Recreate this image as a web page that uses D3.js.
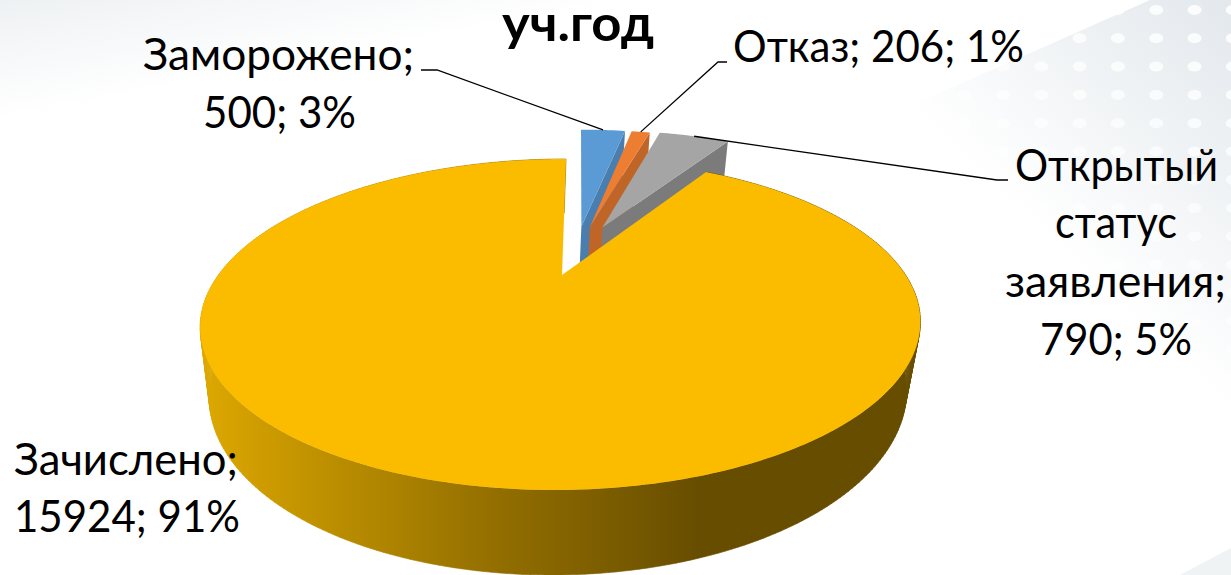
<!DOCTYPE html>
<html lang="ru">
<head>
<meta charset="utf-8">
<title>уч.год</title>
<script src="https://cdn.jsdelivr.net/npm/d3@7/dist/d3.min.js"></script>
<style>
    html, body { margin: 0; padding: 0; background: #fff; overflow: hidden; }
    svg { display: block; }
    text { font-family: Lato, "Open Sans", "Noto Sans", sans-serif; fill: #000; }
</style>
</head>
<body>
<div id="chartcontainer"></div>
<script>
// Chart data
var categories = ["Заморожено", "Отказ", "Открытый статус заявления", "Зачислено"];
var values = [500, 206, 790, 15924];
var percents = [3, 1, 5, 91];
var topColors = ["#5b9bd5", "#ed7d31", "#a5a5a5", "#fbbc00"];
var wallColors = ["#4a7eae", "#bf6528", "#7b7b7b", "#8c6a00"];
var explosions = [0.36, 0.36, 0.37, 0];
var titleText = "уч.год";

var width = 1231,
    height = 575;

// Perspective of the 3D disc
var view = {
    cx: 562, cy: 275,   // centre of the unexploded pie
    rx: 343.6, ry: 150.7,
    k: 0.299,           // foreshortening front to back
    m: 0.03,            // shrink with depth
    depth: 68.6,
    shear: 0.035
};

var svg = d3.select("#chartcontainer")
    .append("svg")
    .attr("width", width)
    .attr("height", height);

var defs = svg.append("defs");

/**
 * Project a point on the disc (u right, v away from viewer, d 0 top / 1 bottom)
 */
function project(u, v, d) {
    var w = 1 + view.k * v + view.m * d,
        yRel = (-view.ry * v + view.depth * d) / w;
    return [view.cx + view.rx * u / w - view.shear * yRel, view.cy + yRel];
}

function drawBackground() {
    var fade = defs.append("linearGradient")
        .attr("id", "bgFade")
        .attr("gradientUnits", "userSpaceOnUse")
        .attr("x1", 1231).attr("y1", 0).attr("x2", 900).attr("y2", 350);
    fade.append("stop").attr("offset", 0).attr("stop-color", "#e3e8ed");
    fade.append("stop").attr("offset", 0.3).attr("stop-color", "#f0f3f5");
    fade.append("stop").attr("offset", 0.62).attr("stop-color", "#ffffff");

    var fadeLeft = defs.append("linearGradient")
        .attr("id", "bgFadeLeft")
        .attr("gradientUnits", "userSpaceOnUse")
        .attr("x1", 0).attr("y1", 0).attr("x2", 22).attr("y2", 116);
    fadeLeft.append("stop").attr("offset", 0).attr("stop-color", "#eef1f3");
    fadeLeft.append("stop").attr("offset", 1).attr("stop-color", "#ffffff");

    var bg = svg.append("g").attr("class", "background");
    var line = d3.line();

    bg.append("path")
        .attr("d", line([[0, 0], [640, 0], [0, 120]]) + "Z")
        .attr("fill", "url(#bgFadeLeft)");
    bg.append("path")
        .attr("d", line([[1150, 0], [1231, 0], [1231, 430], [900, 430], [720, 190]]) + "Z")
        .attr("fill", "url(#bgFade)");
    bg.append("path")
        .attr("d", line([[1231, 548], [1231, 575], [1180, 575]]) + "Z")
        .attr("fill", "#f0f3f4");

    // white dot pattern, stronger towards the top right
    var cols = d3.range(0, 17),
        rows = d3.range(0, 15),
        opacity = d3.scaleLinear().domain([300, 1231]).range([0.05, 0.9]).clamp(true);
    rows.forEach(function (r) {
        bg.selectAll(null)
            .data(cols)
            .enter().append("ellipse")
            .attr("cx", function (c) { return 620 + 38.3 * c; })
            .attr("cy", 10 + 28.3 * r)
            .attr("rx", 7)
            .attr("ry", 5)
            .attr("fill", "#fff")
            .attr("opacity", function (c) {
                return opacity(620 + 38.3 * c - 28.3 * r * 1.4);
            });
    });
}

function arcPoints(slice, off, depth) {
    var steps = Math.max(4, Math.ceil((slice.endAngle - slice.startAngle) * 60));
    return d3.range(steps + 1).map(function (i) {
        var a = slice.startAngle + (slice.endAngle - slice.startAngle) * i / steps;
        return project(off[0] + Math.sin(a), off[1] + Math.cos(a), depth);
    });
}

/**
 * Offset of an exploded slice. Explosion fans slightly to the right of the mid angle.
 */
function sliceOffset(slice, explosion) {
    var mid = (slice.startAngle + slice.endAngle) / 2,
        dir = mid * 0.6 + 6 * Math.PI / 180;
    return [explosion * Math.sin(dir), explosion * Math.cos(dir)];
}

function drawExploded(slice, off, i) {
    var g = svg.append("g").attr("class", "slice slice" + i),
        line = d3.line(),
        a = slice.endAngle,
        u = off[0] + Math.sin(a),
        v = off[1] + Math.cos(a);

    // end face
    g.append("path")
        .attr("d", line([
            project(off[0], off[1], 0),
            project(u, v, 0),
            project(u, v, 1),
            project(off[0], off[1], 1)
        ]) + "Z")
        .attr("fill", wallColors[i]);

    // top
    g.append("path")
        .attr("d", line([project(off[0], off[1], 0)].concat(arcPoints(slice, off, 0))) + "Z")
        .attr("fill", topColors[i]);
}

function drawMain(slice, i) {
    var grad = defs.append("linearGradient")
        .attr("id", "wallGradient")
        .attr("gradientUnits", "userSpaceOnUse")
        .attr("x1", 205).attr("y1", 0).attr("x2", 700).attr("y2", 0);
    grad.append("stop").attr("offset", 0).attr("stop-color", "#dca700");
    grad.append("stop").attr("offset", 0.55).attr("stop-color", "#977200");
    grad.append("stop").attr("offset", 1).attr("stop-color", "#674d00");

    var g = svg.append("g").attr("class", "slice slice" + i),
        line = d3.line(),
        off = [0, 0],
        upper = arcPoints(slice, off, 0),
        lower = arcPoints(slice, off, 1),
        quads = "";

    upper.forEach(function (p, j) {
        if (j > 0) {
            quads += line([upper[j - 1], p, lower[j], lower[j - 1]]) + "Z";
        }
    });
    g.append("path")
        .attr("d", quads)
        .attr("fill", "url(#wallGradient)")
        .attr("stroke", "url(#wallGradient)")
        .attr("stroke-width", 0.6);

    g.append("path")
        .attr("d", line([project(0, 0, 0)].concat(upper)) + "Z")
        .attr("fill", topColors[i]);
}

function drawLabels(slices, offsets) {
    var fontSize = 44,
        leaders = [
            { elbow: [[421, 70], [437, 70]], i: 0 },
            { elbow: [[727, 62], [718, 62]], i: 1 },
            { elbow: [[1008, 180], [997, 180]], i: 2 }
        ],
        line = d3.line();

    leaders.forEach(function (l) {
        var s = slices[l.i],
            a = (s.startAngle + s.endAngle) / 2,
            end = project(offsets[l.i][0] + Math.sin(a), offsets[l.i][1] + Math.cos(a), 0);
        svg.append("path")
            .attr("d", line([l.elbow[0], l.elbow[1], end]))
            .attr("fill", "none")
            .attr("stroke", "#000")
            .attr("stroke-width", 1.3);
    });

    var valueLabel = function (i) { return values[i] + "; " + percents[i] + "%"; };
    // len: line widths measured on the reference, Lato runs wider than the original face
    var labels = [
        { text: categories[0] + ";", x: 143, y: 70, len: 271 },
        { text: valueLabel(0), x: 203, y: 128, len: 153 },
        { text: categories[1] + "; " + valueLabel(1), x: 733, y: 62, len: 291 },
        { text: "Открытый", x: 1015, y: 181, len: 203 },
        { text: "статус", x: 1055, y: 238, len: 122 },
        { text: "заявления;", x: 1005, y: 297, len: 221 },
        { text: valueLabel(2), x: 1040, y: 355, len: 152 },
        { text: categories[3] + ";", x: 14, y: 475, len: 224 },
        { text: valueLabel(3), x: 14, y: 532, len: 226 }
    ];

    svg.selectAll("text.label")
        .data(labels)
        .enter().append("text")
        .attr("class", "label")
        .attr("x", function (d) { return d.x; })
        .attr("y", function (d) { return d.y; })
        .attr("textLength", function (d) { return d.len; })
        .attr("lengthAdjust", "spacingAndGlyphs")
        .attr("font-size", fontSize)
        .text(function (d) { return d.text; });

    svg.append("text")
        .attr("x", 502)
        .attr("y", 41)
        .attr("textLength", 152)
        .attr("lengthAdjust", "spacingAndGlyphs")
        .attr("font-size", 50)
        .attr("font-weight", 700)
        .text(titleText);
}

function init() {
    var pie = d3.pie().sort(null).value(function (d) { return d; }),
        slices = pie(values),
        offsets = slices.map(function (s, i) { return sliceOffset(s, explosions[i]); });

    drawBackground();
    slices.forEach(function (s, i) {
        if (explosions[i] > 0) {
            drawExploded(s, offsets[i], i);
        }
    });
    drawMain(slices[3], 3);
    drawLabels(slices, offsets);
}

init();
</script>
</body>
</html>
